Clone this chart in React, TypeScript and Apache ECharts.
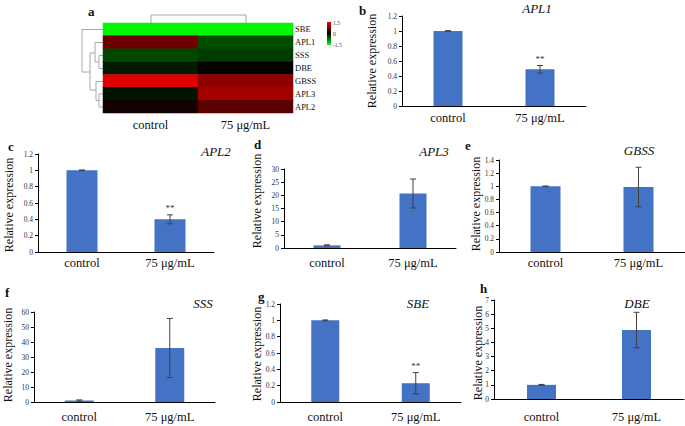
import React, { useEffect, useRef } from "react";
import * as echarts from "echarts";

// ---- data ----
const treatments = ["control", "75 μg/mL"];
const heatGenes = ["SBE", "APL1", "SSS", "DBE", "GBSS", "APL3", "APL2"];
const heatControl = [-1.45, 0.65, -0.42, -0.15, 1.32, -0.12, 0.12];
const heatTreated = [-1.45, -0.46, -0.35, 0.0, 0.84, 0.97, 0.55];
const scaleLabels = ["1.5", "0", "-1.5"];

const panelGenes = ["APL1", "APL2", "APL3", "GBSS", "SSS", "SBE", "DBE"];
const panelLetters = ["b", "c", "d", "e", "f", "g", "h"];
const controlMeans = [1, 1, 1, 1, 1, 1, 1];
const treatedMeans = [0.49, 0.4, 20.7, 0.99, 36, 0.23, 4.88];
const controlErrors = [0.005, 0.005, 0.2, 0.005, 0.4, 0.005, 0.03];
const treatedErrors = [0.05, 0.055, 5.5, 0.3, 19.7, 0.13, 1.25];
const significant = [1, 1, 0, 0, 0, 1, 0];
const yMax = [1.2, 1.2, 30, 1.4, 60, 1.2, 7];
const yStep = [0.2, 0.2, 5, 0.2, 10, 0.2, 1];
const yTitle = "Relative expression";

// ---- layout (pixels) ----
const layout = [
  { left: 402, top: 16, width: 184, height: 90, barW: 29, lm: 5, tx: 537, ty: 8, lx: 359, ly: 10, yx: 372, yy: 61 },
  { left: 38, top: 154, width: 176, height: 98, barW: 31, lm: 4, tx: 216, ty: 151, lx: 8, ly: 146, yx: 9, yy: 205 },
  { left: 284, top: 169, width: 172, height: 79, barW: 27, lm: 8, tx: 434, ty: 151, lx: 254, ly: 144, yx: 257, yy: 201 },
  { left: 499, top: 160, width: 186, height: 92, barW: 30, lm: 4, tx: 639, ty: 150, lx: 465, ly: 145, yx: 476, yy: 204 },
  { left: 34, top: 312, width: 181, height: 90, barW: 29, lm: 8, tx: 203, ty: 303, lx: 5, ly: 292, yx: 8, yy: 355 },
  { left: 280, top: 304, width: 181, height: 98, barW: 28, lm: 8, tx: 418, ty: 303, lx: 258, ly: 296, yx: 257, yy: 354 },
  { left: 494, top: 300, width: 190, height: 99, barW: 29, lm: 11, tx: 637, ty: 303, lx: 480, ly: 288, yx: 478, yy: 353 },
];
const heatGrid = { left: 103, top: 23, width: 190, height: 90 };

const SERIF = "'Liberation Serif', 'DejaVu Serif', 'Times New Roman', serif";
const BAR = "#4472c4";

export default function App() {
  const ref = useRef<HTMLDivElement>(null);

  useEffect(() => {
    document.body.style.margin = "0";
    if (!ref.current) return;
    const chart = echarts.init(ref.current, undefined, { renderer: "svg" });

    const grids: any[] = [{ ...heatGrid }];
    const xAxes: any[] = [
      {
        type: "category",
        gridIndex: 0,
        data: treatments,
        position: "bottom",
        axisLine: { show: false },
        axisTick: { show: false },
        axisLabel: { fontFamily: SERIF, fontSize: 12.5, color: "#111", margin: 5 },
      },
    ];
    const yAxes: any[] = [
      {
        type: "category",
        gridIndex: 0,
        data: heatGenes,
        inverse: true,
        position: "right",
        axisLine: { show: false },
        axisTick: { show: false },
        axisLabel: { fontFamily: SERIF, fontSize: 8.5, color: "#111", margin: 2 },
      },
    ];
    const heatData: any[] = [];
    heatGenes.forEach((_, i) => {
      heatData.push([0, i, heatControl[i]]);
      heatData.push([1, i, heatTreated[i]]);
    });
    const series: any[] = [
      {
        type: "heatmap",
        xAxisIndex: 0,
        yAxisIndex: 0,
        data: heatData,
        itemStyle: { borderWidth: 0 },
      },
    ];
    const graphics: any[] = [];

    layout.forEach((L, i) => {
      const gi = i + 1;
      grids.push({ left: L.left, top: L.top, width: L.width, height: L.height });
      xAxes.push({
        type: "category",
        gridIndex: gi,
        data: treatments,
        axisLine: { show: true, lineStyle: { color: "#000", width: 1 } },
        axisTick: { show: false },
        axisLabel: { fontFamily: SERIF, fontSize: 12.5, color: "#111", margin: L.lm },
      });
      yAxes.push({
        type: "value",
        gridIndex: gi,
        min: 0,
        max: yMax[i],
        interval: yStep[i],
        splitLine: { show: false },
        axisLine: { show: true, lineStyle: { color: "#000", width: 1 } },
        axisTick: { show: true, length: 3, lineStyle: { color: "#000" } },
        axisLabel: { fontFamily: SERIF, fontSize: 7.5, color: "#333", margin: 5 },
      });
      series.push({
        type: "bar",
        xAxisIndex: gi,
        yAxisIndex: gi,
        barWidth: L.barW,
        data: [controlMeans[i], treatedMeans[i]],
        itemStyle: { color: BAR },
      });
      series.push({
        type: "custom",
        xAxisIndex: gi,
        yAxisIndex: gi,
        clip: false,
        z: 5,
        data: [
          [0, controlMeans[i], controlErrors[i], 0],
          [1, treatedMeans[i], treatedErrors[i], significant[i]],
        ],
        renderItem: (params: any, api: any) => {
          const ci = api.value(0);
          const m = api.value(1);
          const e = api.value(2);
          const s = api.value(3);
          const top = api.coord([ci, m + e]);
          const bot = api.coord([ci, m - e]);
          const hw = 3;
          const st = { stroke: "#404040", lineWidth: 1 };
          const children: any[] = [
            { type: "line", shape: { x1: top[0], y1: top[1], x2: bot[0], y2: bot[1] }, style: st },
            { type: "line", shape: { x1: top[0] - hw, y1: top[1], x2: top[0] + hw, y2: top[1] }, style: st },
            { type: "line", shape: { x1: bot[0] - hw, y1: bot[1], x2: bot[0] + hw, y2: bot[1] }, style: st },
          ];
          if (s) {
            children.push({
              type: "text",
              x: top[0],
              y: top[1] - 2,
              style: {
                text: "**",
                textAlign: "center",
                textVerticalAlign: "bottom",
                fontSize: 9,
                fontFamily: SERIF,
                fill: "#333",
              },
            });
          }
          return { type: "group", children };
        },
      });
      // gene title
      graphics.push({
        type: "text",
        x: L.tx,
        y: L.ty,
        style: {
          text: panelGenes[i],
          textAlign: "center",
          textVerticalAlign: "middle",
          fontFamily: SERIF,
          fontStyle: "italic",
          fontSize: 13,
          fill: "#111",
        },
      });
      // panel letter
      graphics.push({
        type: "text",
        x: L.lx,
        y: L.ly,
        style: {
          text: panelLetters[i],
          textAlign: "left",
          textVerticalAlign: "middle",
          fontFamily: SERIF,
          fontWeight: "bold",
          fontSize: 13,
          fill: "#111",
        },
      });
      // y title
      graphics.push({
        type: "text",
        x: L.yx,
        y: L.yy,
        rotation: Math.PI / 2,
        style: {
          text: yTitle,
          textAlign: "center",
          textVerticalAlign: "middle",
          fontFamily: SERIF,
          fontSize: 12,
          fill: "#111",
        },
      });
    });

    // panel a letter
    graphics.push({
      type: "text",
      x: 88,
      y: 11,
      style: {
        text: "a",
        textAlign: "left",
        textVerticalAlign: "middle",
        fontFamily: SERIF,
        fontWeight: "bold",
        fontSize: 13,
        fill: "#111",
      },
    });

    // dendrograms
    const dend = { stroke: "#a8a8a8", lineWidth: 1, fill: null };
    const dendLines = [
      [[151, 23], [151, 15], [246, 15], [246, 23]],
      [[103, 29.5], [82, 29.5], [82, 72], [90, 72]],
      [[95, 53], [90, 53], [90, 90], [96, 90]],
      [[103, 42.5], [95, 42.5], [95, 62], [99, 62]],
      [[103, 55.5], [99, 55.5], [99, 68.5], [103, 68.5]],
      [[103, 81.5], [96, 81.5], [96, 100.5], [99, 100.5]],
      [[103, 94], [99, 94], [99, 107], [103, 107]],
    ];
    dendLines.forEach((pts) => {
      graphics.push({ type: "polyline", shape: { points: pts }, style: dend, silent: true });
    });

    // colour scale legend
    graphics.push({
      type: "rect",
      shape: { x: 327, y: 22, width: 4, height: 23 },
      style: {
        fill: new echarts.graphic.LinearGradient(0, 0, 0, 1, [
          { offset: 0, color: "#ff0000" },
          { offset: 0.5, color: "#000000" },
          { offset: 1, color: "#00ff00" },
        ]),
      },
    });
    [22.5, 33.5, 44.5].forEach((y, k) => {
      graphics.push({
        type: "text",
        x: 333,
        y,
        style: {
          text: scaleLabels[k],
          textAlign: "left",
          textVerticalAlign: "middle",
          fontFamily: SERIF,
          fontSize: 5.5,
          fill: "#333",
        },
      });
    });

    chart.setOption({
      animation: false,
      backgroundColor: "#ffffff",
      grid: grids,
      xAxis: xAxes,
      yAxis: yAxes,
      visualMap: {
        type: "continuous",
        show: false,
        min: -1.5,
        max: 1.5,
        seriesIndex: 0,
        inRange: { color: ["#00ff00", "#000000", "#ff0000"] },
      },
      series,
      graphic: { elements: graphics },
    });

    return () => chart.dispose();
  }, []);

  return <div ref={ref} style={{ width: 685, height: 426 }} />;
}
